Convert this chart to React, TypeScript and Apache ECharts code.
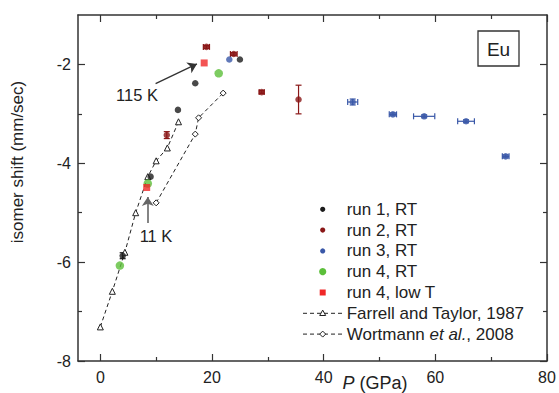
import React, { useEffect, useRef } from "react";
import * as echarts from "echarts";

// ---- data (P in GPa, isomer shift in mm/s, optional x error, y error) ----
const run1: number[][] = [
  [4.0, -5.87, 0, 0.06],
  [9.0, -4.27, 0, 0],
  [13.9, -2.92, 0, 0],
  [17.0, -2.38, 0, 0],
  [25.0, -1.9, 0, 0],
];
const run2: number[][] = [
  [11.9, -3.43, 0, 0.07],
  [19.0, -1.645, 0.55, 0.03],
  [23.9, -1.79, 0.6, 0.03],
  [28.9, -2.56, 0.45, 0.03],
  [35.5, -2.71, 0, 0.29],
];
const run3: number[][] = [
  [23.1, -1.9, 0, 0],
  [45.2, -2.76, 0.9, 0.06],
  [52.4, -3.01, 0.65, 0.03],
  [58.0, -3.05, 1.9, 0.03],
  [65.5, -3.15, 1.5, 0.03],
  [72.6, -3.86, 0.6, 0.03],
];
const run4: number[][] = [
  [3.5, -6.07],
  [8.5, -4.41],
  [21.2, -2.18],
];
const run4LowT: number[][] = [
  [8.3, -4.49],
  [18.6, -1.97],
];
const farrell: number[][] = [
  [0, -7.31],
  [2.15, -6.59],
  [4.4, -5.8],
  [6.33, -5.0],
  [8.5, -4.27],
  [10.0, -3.95],
  [12.0, -3.69],
  [14.0, -3.16],
];
const wortmann: number[][] = [
  [10.0, -4.8],
  [17.0, -3.41],
  [17.6, -3.08],
  [22.0, -2.58],
];
const arrow115K = [
  [9.9, -2.39],
  [17.3, -1.99],
];
const arrow11K = [
  [8.5, -5.21],
  [8.5, -4.68],
];
const xMajor = [0, 20, 40, 60, 80];
const xMinor = [10, 30, 50, 70];
const yMajor = [-8, -6, -4, -2];
const yMinor = [-7, -5, -3];
const legendNames = [
  "run 1, RT",
  "run 2, RT",
  "run 3, RT",
  "run 4, RT",
  "run 4, low T",
  "Farrell and Taylor, 1987",
  "Wortmann et al., 2008",
];

const C_BLACK = "#1c1c1c";
const C_DRED = "#8a1717";
const C_BLUE = "#3a58a8";
const C_GREEN = "#5cbf3a";
const C_RED = "#f02828";
const AX = "#333333";
const FONT = "'Liberation Sans', Arial, Helvetica, sans-serif";

function errSeries(data: number[][], color: string) {
  return {
    type: "custom",
    data: data.filter((d) => (d[2] || 0) > 0 || (d[3] || 0) > 0),
    encode: { x: 0, y: 1 },
    silent: true,
    z: 1,
    renderItem: (_params: any, api: any) => {
      const x = api.value(0);
      const y = api.value(1);
      const ex = api.value(2);
      const ey = api.value(3);
      const children: any[] = [];
      const st = { stroke: color, lineWidth: 1.2 };
      const cap = 3;
      if (ex > 0) {
        const a = api.coord([x - ex, y]);
        const b = api.coord([x + ex, y]);
        children.push({ type: "line", shape: { x1: a[0], y1: a[1], x2: b[0], y2: b[1] }, style: st });
        children.push({ type: "line", shape: { x1: a[0], y1: a[1] - cap, x2: a[0], y2: a[1] + cap }, style: st });
        children.push({ type: "line", shape: { x1: b[0], y1: b[1] - cap, x2: b[0], y2: b[1] + cap }, style: st });
      }
      if (ey > 0) {
        const a = api.coord([x, y - ey]);
        const b = api.coord([x, y + ey]);
        children.push({ type: "line", shape: { x1: a[0], y1: a[1], x2: b[0], y2: b[1] }, style: st });
        children.push({ type: "line", shape: { x1: a[0] - cap, y1: a[1], x2: a[0] + cap, y2: a[1] }, style: st });
        children.push({ type: "line", shape: { x1: b[0] - cap, y1: b[1], x2: b[0] + cap, y2: b[1] }, style: st });
      }
      return { type: "group", children };
    },
  };
}

function xAxisDef(position: string, ticks: number[], len: number, labels: boolean, lineShow: boolean) {
  return {
    type: "value",
    position,
    min: -4,
    max: 80,
    axisLine: { show: lineShow, onZero: false, lineStyle: { color: AX, width: 1.5 } },
    axisTick: { show: true, inside: true, length: len, customValues: ticks, lineStyle: { color: AX, width: 1.2 } },
    axisLabel: labels
      ? { show: true, customValues: ticks, margin: 8, fontSize: 16, color: "#222", fontFamily: FONT }
      : { show: false },
    splitLine: { show: false },
  };
}
function yAxisDef(position: string, ticks: number[], len: number, labels: boolean, lineShow: boolean) {
  return {
    type: "value",
    position,
    min: -8,
    max: -1,
    axisLine: { show: lineShow, onZero: false, lineStyle: { color: AX, width: 1.5 } },
    axisTick: { show: true, inside: true, length: len, customValues: ticks, lineStyle: { color: AX, width: 1.2 } },
    axisLabel: labels
      ? { show: true, customValues: ticks, margin: 7, fontSize: 16, color: "#222", fontFamily: FONT }
      : { show: false },
    splitLine: { show: false },
  };
}

function legendGraphic() {
  const x0 = 322.7;
  const tx = 346.7;
  const y0 = 209.3;
  const dy = 20.8;
  const items: any[] = [];
  const markers: any[] = [
    { type: "circle", shape: { r: 2.6 }, style: { fill: C_BLACK } },
    { type: "circle", shape: { r: 2.6 }, style: { fill: C_DRED } },
    { type: "circle", shape: { r: 2.6 }, style: { fill: C_BLUE } },
    { type: "circle", shape: { r: 3.6 }, style: { fill: C_GREEN } },
    { type: "rect", shape: { x: -3, y: -3, width: 6, height: 6 }, style: { fill: C_RED } },
  ];
  legendNames.forEach((name, i) => {
    const y = y0 + i * dy;
    if (i < 5) {
      items.push({ ...markers[i], x: x0, y });
    } else {
      items.push({
        type: "line",
        shape: { x1: 303, y1: y, x2: 342, y2: y },
        style: { stroke: "#222", lineWidth: 1, lineDash: [4, 3] },
      });
      if (i === 5) {
        items.push({
          type: "polygon",
          shape: { points: [[x0, y - 3.2], [x0 + 3, y + 2.2], [x0 - 3, y + 2.2]] },
          style: { fill: "#fff", stroke: "#222", lineWidth: 1 },
        });
      } else {
        items.push({
          type: "polygon",
          shape: { points: [[x0, y - 3], [x0 + 3, y], [x0, y + 3], [x0 - 3, y]] },
          style: { fill: "#fff", stroke: "#222", lineWidth: 1 },
        });
      }
    }
    const text =
      i === 6 ? "{n|Wortmann }{i|et al.}{n|, 2008}" : "{n|" + name + "}";
    items.push({
      type: "text",
      x: tx,
      y,
      style: {
        text,
        fill: "#222",
        font: "17px " + FONT,
        verticalAlign: "middle",
        align: "left",
        rich: {
          n: { fontSize: 17, fontFamily: FONT, fill: "#222" },
          i: { fontSize: 17, fontFamily: FONT, fontStyle: "italic", fill: "#222" },
        },
      },
    });
  });
  return items;
}

export default function App() {
  const ref = useRef<HTMLDivElement>(null);
  useEffect(() => {
    if (!ref.current) return;
    const chart = echarts.init(ref.current, null, { renderer: "svg" });
    const scatterBase = { type: "scatter", z: 3, encode: { x: 0, y: 1 } };
    const option: any = {
      animation: false,
      backgroundColor: "#ffffff",
      grid: { left: 78, right: 12, top: 15, bottom: 32, containLabel: false, outerBoundsMode: "none" },
      xAxis: [
        xAxisDef("bottom", xMajor, 7, true, true),
        xAxisDef("bottom", xMinor, 4, false, false),
        xAxisDef("top", xMajor, 7, false, true),
        xAxisDef("top", xMinor, 4, false, false),
      ],
      yAxis: [
        yAxisDef("left", yMajor, 7, true, true),
        yAxisDef("left", yMinor, 4, false, false),
        yAxisDef("right", yMajor, 7, false, true),
        yAxisDef("right", yMinor, 4, false, false),
      ],
      series: [
        {
          name: legendNames[5],
          type: "line",
          data: farrell,
          z: 2,
          symbol: "triangle",
          symbolSize: 6,
          showAllSymbol: true,
          lineStyle: { color: "#222", width: 1, type: [4, 3] },
          itemStyle: { color: "#fff", borderColor: "#222", borderWidth: 1 },
          silent: true,
        },
        {
          name: legendNames[6],
          type: "line",
          data: wortmann,
          z: 2,
          symbol: "diamond",
          symbolSize: 6,
          showAllSymbol: true,
          lineStyle: { color: "#222", width: 1, type: [4, 3] },
          itemStyle: { color: "#fff", borderColor: "#222", borderWidth: 1 },
          silent: true,
        },
        {
          name: "arrows",
          type: "scatter",
          data: [],
          silent: true,
          itemStyle: { color: "#333" },
          markLine: {
            silent: true,
            symbol: ["none", "arrow"],
            symbolSize: 9,
            label: { show: false },
            itemStyle: { color: "#333" },
            lineStyle: { color: "#333", type: "solid", width: 1.3 },
            data: [
              [{ coord: arrow115K[0] }, { coord: arrow115K[1] }],
              [
                { coord: arrow11K[0], lineStyle: { color: "#666", width: 1.6 } },
                { coord: arrow11K[1] },
              ],
            ],
          },
        },
        errSeries(run1, C_BLACK),
        errSeries(run2, C_DRED),
        errSeries(run3, C_BLUE),
        { ...scatterBase, name: legendNames[0], data: run1, symbol: "circle", symbolSize: 6.5, itemStyle: { color: C_BLACK } },
        { ...scatterBase, name: legendNames[1], data: run2, symbol: "circle", symbolSize: 6.5, itemStyle: { color: C_DRED } },
        { ...scatterBase, name: legendNames[2], data: run3, symbol: "circle", symbolSize: 6.5, itemStyle: { color: C_BLUE } },
        { ...scatterBase, name: legendNames[3], data: run4, symbol: "circle", symbolSize: 8.5, itemStyle: { color: C_GREEN } },
        { ...scatterBase, name: legendNames[4], data: run4LowT, symbol: "rect", symbolSize: 7, itemStyle: { color: C_RED } },
      ],
      graphic: [
        {
          type: "rect",
          shape: { x: 478, y: 31, width: 41, height: 35 },
          style: { fill: "#fff", stroke: "#333", lineWidth: 1.3 },
          z: 10,
        },
        {
          type: "text",
          x: 498.5,
          y: 49,
          z: 11,
          style: { text: "Eu", font: "19px " + FONT, fill: "#222", align: "center", verticalAlign: "middle" },
        },
        {
          type: "text",
          x: 137,
          y: 95,
          style: { text: "115 K", font: "16.5px " + FONT, fill: "#222", align: "center", verticalAlign: "middle" },
        },
        {
          type: "text",
          x: 156,
          y: 236,
          style: { text: "11 K", font: "16.5px " + FONT, fill: "#222", align: "center", verticalAlign: "middle" },
        },
        {
          type: "text",
          x: 375,
          y: 383,
          style: {
            text: "{i|P} {n|(GPa)}",
            fill: "#222",
            font: "18px " + FONT,
            align: "center",
            verticalAlign: "middle",
            rich: {
              i: { fontSize: 18, fontFamily: FONT, fontStyle: "italic", fill: "#222" },
              n: { fontSize: 18, fontFamily: FONT, fill: "#222" },
            },
          },
        },
        {
          type: "text",
          x: 17,
          y: 162,
          rotation: Math.PI / 2,
          style: {
            text: "isomer shift (mm/sec)",
            font: "17px " + FONT,
            fill: "#222",
            align: "center",
            verticalAlign: "middle",
          },
        },
        { type: "group", children: legendGraphic() },
      ],
    };
    chart.setOption(option);
    return () => chart.dispose();
  }, []);
  return (
    <div
      ref={ref}
      style={{ position: "fixed", left: 0, top: 0, width: 559, height: 393, background: "#fff" }}
    />
  );
}
